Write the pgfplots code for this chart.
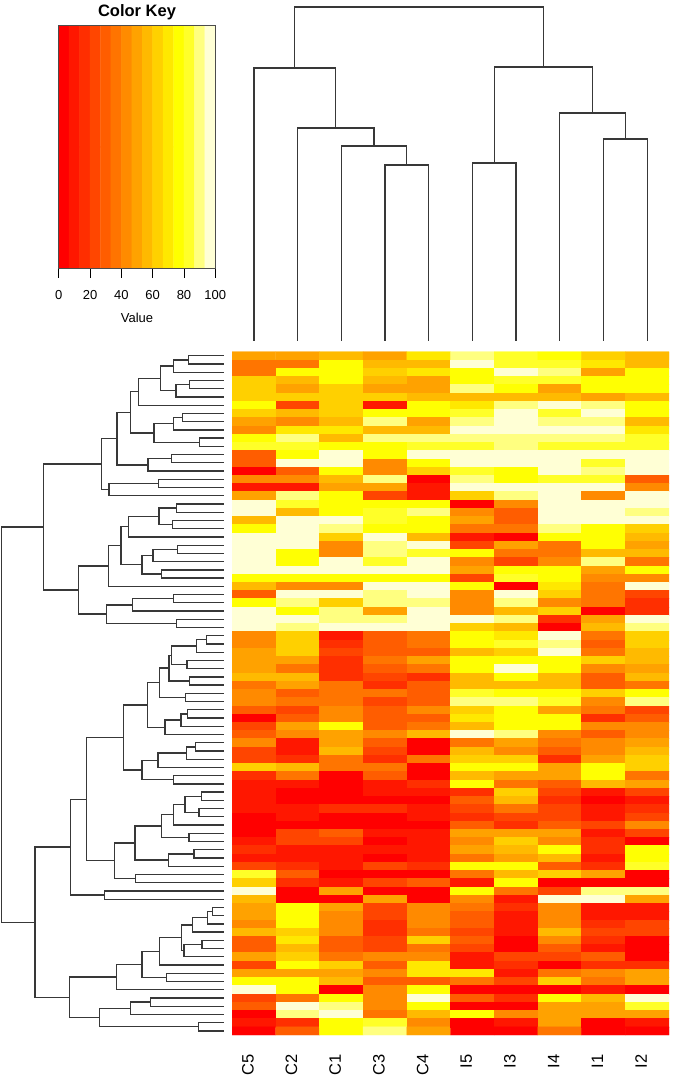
\documentclass[border=0pt]{standalone}
\usepackage{pgfplots}
\pgfplotsset{compat=1.18}
\usepackage{fontspec}
\setmainfont{Liberation Sans}
\pgfplotsset{
  colormap={heat}{rgb255=(255,0,0) rgb255=(255,23,0) rgb255=(255,46,0) rgb255=(255,70,0) rgb255=(255,93,0)
    rgb255=(255,116,0) rgb255=(255,139,0) rgb255=(255,162,0) rgb255=(255,185,0) rgb255=(255,209,0)
    rgb255=(255,232,0) rgb255=(255,255,0) rgb255=(255,255,42) rgb255=(255,255,128) rgb255=(255,255,213)},
  dendro/.style={draw=black!78, line width=1.3pt, line cap=rect, mark=none, unbounded coords=jump},
}
\begin{document}
\begin{tikzpicture}
\path[use as bounding box] (0,0) rectangle (675pt,1078pt);

% Colour key
\begin{axis}[
  at={(58.7pt,809.3pt)}, anchor=south west, scale only axis,
  width=156.6pt, height=243.4pt,
  xmin=0, xmax=100, ymin=0, ymax=1,
  colormap name=heat, point meta min=3.33, point meta max=96.67,
  xtick={0,20,...,100}, ytick=\empty, tick pos=bottom, tick align=outside,
  major tick length=9pt, axis line style={draw=black!70, line width=0.6pt},
  tick style={draw=black, line width=0.7pt},
  tick label style={font=\fontsize{13}{15}\selectfont},
  /pgf/number format/assume math mode=true,
  xticklabel style={yshift=-9pt},
  xlabel={Value}, xlabel style={font=\fontsize{13}{15}\selectfont, yshift=-7pt},
  title={\bfseries Color Key}, title style={font=\fontsize{16.5}{18}\selectfont, yshift=-4pt},
  axis on top,
]
\addplot[matrix plot*, mesh/cols=15, point meta=explicit] coordinates {
(3.33,0) [3.33] (10,0) [10] (16.67,0) [16.67] (23.33,0) [23.33] (30,0) [30] (36.67,0) [36.67] (43.33,0) [43.33] (50,0) [50] (56.67,0) [56.67] (63.33,0) [63.33] (70,0) [70] (76.67,0) [76.67] (83.33,0) [83.33] (90,0) [90] (96.67,0) [96.67]
(3.33,1) [3.33] (10,1) [10] (16.67,1) [16.67] (23.33,1) [23.33] (30,1) [30] (36.67,1) [36.67] (43.33,1) [43.33] (50,1) [50] (56.67,1) [56.67] (63.33,1) [63.33] (70,1) [70] (76.67,1) [76.67] (83.33,1) [83.33] (90,1) [90] (96.67,1) [96.67]
};
\end{axis}

% Top dendrogram
\begin{axis}[
  at={(232pt,726.3pt)}, anchor=south west, scale only axis, axis lines=none,
  width=437pt, height=351.7pt, xmin=-0.5, xmax=9.5, ymin=0, ymax=351.7, y dir=reverse,
]
\addplot[dendro] coordinates {
(3,340)(3,165)(4,165)(4,340)(nan,nan)
(2,340)(2,146)(3.5,146)(3.5,165)(nan,nan)
(1,340)(1,128)(2.75,128)(2.75,146)(nan,nan)
(0,340)(0,68)(1.875,68)(1.875,128)(nan,nan)
(5,340)(5,163)(6,163)(6,340)(nan,nan)
(8,340)(8,139)(9,139)(9,340)(nan,nan)
(7,340)(7,113)(8.5,113)(8.5,139)(nan,nan)
(5.5,163)(5.5,67)(7.75,67)(7.75,113)(nan,nan)
(0.9375,68)(0.9375,7)(6.625,7)(6.625,67)
};
\end{axis}

% Left dendrogram
\begin{axis}[
  at={(0pt,43pt)}, anchor=south west, scale only axis, axis lines=none,
  width=232pt, height=683.3pt, xmin=0, xmax=232, ymin=-0.5, ymax=82.5, y dir=reverse,
]
\addplot[dendro] coordinates {
(223,0)(188.7,0)(188.7,1)(223,1)(nan,nan)
(188.7,0.5)(173.3,0.5)(173.3,2)(223,2)(nan,nan)
(223,3)(189.7,3)(189.7,4)(223,4)(nan,nan)
(189.7,3.5)(176,3.5)(176,5)(223,5)(nan,nan)
(173.3,1.25)(160.3,1.25)(160.3,4.25)(176,4.25)(nan,nan)
(160.3,2.75)(138.7,2.75)(138.7,6)(223,6)(nan,nan)
(223,7)(182.3,7)(182.3,8)(223,8)(nan,nan)
(182.3,7.5)(173.7,7.5)(173.7,9)(223,9)(nan,nan)
(223,10)(199.3,10)(199.3,11)(223,11)(nan,nan)
(173.7,8.25)(154,8.25)(154,10.5)(199.3,10.5)(nan,nan)
(138.7,4.375)(130.7,4.375)(130.7,9.375)(154,9.375)(nan,nan)
(223,12)(171.7,12)(171.7,13)(223,13)(nan,nan)
(171.7,12.5)(148,12.5)(148,14)(223,14)(nan,nan)
(130.7,6.875)(117,6.875)(117,13.25)(148,13.25)(nan,nan)
(223,15)(158.3,15)(158.3,16)(223,16)(nan,nan)
(158.3,15.5)(109,15.5)(109,17)(223,17)(nan,nan)
(117,10.0625)(101.7,10.0625)(101.7,16.25)(109,16.25)(nan,nan)
(223,18)(176.7,18)(176.7,19)(223,19)(nan,nan)
(223,20)(172.7,20)(172.7,21)(223,21)(nan,nan)
(176.7,18.5)(159,18.5)(159,20.5)(172.7,20.5)(nan,nan)
(159,19.5)(128.7,19.5)(128.7,22)(223,22)(nan,nan)
(223,23)(177.7,23)(177.7,24)(223,24)(nan,nan)
(177.7,23.5)(153,23.5)(153,25)(223,25)(nan,nan)
(223,26)(161.7,26)(161.7,27)(223,27)(nan,nan)
(153,24.25)(142,24.25)(142,26.5)(161.7,26.5)(nan,nan)
(128.7,20.75)(121,20.75)(121,25.375)(142,25.375)(nan,nan)
(121,23.0625)(108.7,23.0625)(108.7,28)(223,28)(nan,nan)
(223,29)(173.7,29)(173.7,30)(223,30)(nan,nan)
(173.7,29.5)(132.3,29.5)(132.3,31)(223,31)(nan,nan)
(223,32)(176.7,32)(176.7,33)(223,33)(nan,nan)
(132.3,30.25)(106.7,30.25)(106.7,32.5)(176.7,32.5)(nan,nan)
(108.7,25.531)(78.7,25.531)(78.7,31.375)(106.7,31.375)(nan,nan)
(101.7,13.156)(43.7,13.156)(43.7,28.453)(78.7,28.453)(nan,nan)
(223,34)(206.7,34)(206.7,35)(223,35)(nan,nan)
(206.7,34.5)(196.7,34.5)(196.7,36)(223,36)(nan,nan)
(223,37)(187,37)(187,38)(223,38)(nan,nan)
(196.7,35.25)(171.7,35.25)(171.7,37.5)(187,37.5)(nan,nan)
(223,39)(189.7,39)(189.7,40)(223,40)(nan,nan)
(171.7,36.375)(169,36.375)(169,39.5)(189.7,39.5)(nan,nan)
(223,41)(185.7,41)(185.7,42)(223,42)(nan,nan)
(169,37.9375)(159.3,37.9375)(159.3,41.5)(185.7,41.5)(nan,nan)
(223,43)(187.7,43)(187.7,44)(223,44)(nan,nan)
(187.7,43.5)(181,43.5)(181,45)(223,45)(nan,nan)
(181,44.25)(165,44.25)(165,46)(223,46)(nan,nan)
(159.3,39.719)(147.7,39.719)(147.7,45.125)(165,45.125)(nan,nan)
(223,47)(195.7,47)(195.7,48)(223,48)(nan,nan)
(195.7,47.5)(186.3,47.5)(186.3,49)(223,49)(nan,nan)
(186.3,48.25)(158,48.25)(158,50)(223,50)(nan,nan)
(223,51)(173.3,51)(173.3,52)(223,52)(nan,nan)
(158,49.125)(142,49.125)(142,51.5)(173.3,51.5)(nan,nan)
(147.7,42.422)(123.3,42.422)(123.3,50.3125)(142,50.3125)(nan,nan)
(223,53)(201.3,53)(201.3,54)(223,54)(nan,nan)
(223,55)(199,55)(199,56)(223,56)(nan,nan)
(201.3,53.5)(185,53.5)(185,55.5)(199,55.5)(nan,nan)
(185,54.5)(173.7,54.5)(173.7,57)(223,57)(nan,nan)
(223,58)(189,58)(189,59)(223,59)(nan,nan)
(173.7,55.75)(161.3,55.75)(161.3,58.5)(189,58.5)(nan,nan)
(223,60)(194,60)(194,61)(223,61)(nan,nan)
(194,60.5)(168.3,60.5)(168.3,62)(223,62)(nan,nan)
(161.3,57.125)(135,57.125)(135,61.25)(168.3,61.25)(nan,nan)
(223,63)(135.7,63)(135.7,64)(223,64)(nan,nan)
(135,59.1875)(114.7,59.1875)(114.7,63.5)(135.7,63.5)(nan,nan)
(123.3,46.367)(86.7,46.367)(86.7,61.344)(114.7,61.344)(nan,nan)
(223,65)(104.7,65)(104.7,66)(223,66)(nan,nan)
(86.7,53.855)(70.3,53.855)(70.3,65.5)(104.7,65.5)(nan,nan)
(223,67)(212.3,67)(212.3,68)(223,68)(nan,nan)
(212.3,67.5)(207.7,67.5)(207.7,69)(223,69)(nan,nan)
(207.7,68.25)(192.7,68.25)(192.7,70)(223,70)(nan,nan)
(223,71)(202,71)(202,72)(223,72)(nan,nan)
(202,71.5)(184,71.5)(184,73)(223,73)(nan,nan)
(192.7,69.125)(181.7,69.125)(181.7,72.25)(184,72.25)(nan,nan)
(181.7,70.6875)(159.3,70.6875)(159.3,74)(223,74)(nan,nan)
(223,75)(166.7,75)(166.7,76)(223,76)(nan,nan)
(159.3,72.344)(142,72.344)(142,75.5)(166.7,75.5)(nan,nan)
(142,73.922)(116.3,73.922)(116.3,77)(223,77)(nan,nan)
(223,78)(150.3,78)(150.3,79)(223,79)(nan,nan)
(150.3,78.5)(130.7,78.5)(130.7,80)(223,80)(nan,nan)
(223,81)(198.3,81)(198.3,82)(223,82)(nan,nan)
(130.7,79.25)(99.3,79.25)(99.3,81.5)(198.3,81.5)(nan,nan)
(116.3,75.461)(69.7,75.461)(69.7,80.375)(99.3,80.375)(nan,nan)
(70.3,59.678)(35,59.678)(35,77.918)(69.7,77.918)(nan,nan)
(43.7,20.805)(1.7,20.805)(1.7,68.798)(35,68.798)
};
\end{axis}

% Heat map
\begin{axis}[
  at={(232pt,43pt)}, anchor=south west, scale only axis,
  width=437pt, height=683.3pt,
  xmin=-0.5, xmax=9.5, ymin=-0.5, ymax=82.5, y dir=reverse,
  colormap name=heat, point meta min=3.33, point meta max=96.67,
  axis line style={draw=none}, ytick=\empty,
  xtick={0,...,9}, xticklabels={C5,C2,C1,C3,C4,I5,I3,I4,I1,I2},
  major tick length=0pt, tick pos=bottom,
  xticklabel style={font=\fontsize{16.5}{20}\selectfont, rotate=90, anchor=east, xshift=-16pt, yshift=6pt},
]
\addplot[matrix plot*, mesh/cols=10, point meta=explicit]
 table[row sep=\\, header=false, x expr={int(mod(\coordindex+0.1,10))}, y expr={int((\coordindex+0.1)/10)}, meta index=0] {
50\\50\\57\\50\\70\\90\\83\\77\\63\\57\\
37\\37\\77\\57\\57\\97\\83\\83\\70\\57\\
37\\77\\77\\63\\70\\77\\97\\90\\50\\77\\
63\\57\\77\\57\\50\\77\\83\\83\\77\\77\\
63\\50\\63\\50\\50\\90\\77\\50\\77\\77\\
63\\63\\63\\63\\57\\57\\57\\57\\50\\57\\
77\\23\\63\\10\\77\\70\\90\\97\\90\\77\\
63\\57\\63\\77\\77\\83\\97\\83\\97\\77\\
50\\43\\57\\90\\50\\90\\97\\90\\90\\57\\
43\\70\\70\\57\\57\\97\\97\\97\\97\\70\\
77\\90\\57\\90\\90\\90\\90\\90\\90\\83\\
83\\83\\77\\77\\83\\83\\90\\83\\83\\83\\
30\\77\\97\\77\\97\\97\\97\\97\\97\\97\\
30\\97\\97\\43\\77\\97\\97\\97\\83\\97\\
3\\30\\77\\43\\63\\83\\77\\97\\90\\97\\
43\\43\\57\\90\\3\\90\\77\\83\\83\\30\\
10\\10\\50\\50\\10\\97\\97\\97\\97\\43\\
50\\90\\77\\23\\10\\63\\90\\97\\43\\97\\
97\\83\\77\\77\\77\\3\\43\\97\\97\\97\\
97\\57\\77\\83\\90\\43\\30\\97\\97\\90\\
57\\97\\97\\83\\77\\50\\30\\97\\97\\97\\
77\\97\\90\\77\\77\\37\\37\\90\\77\\63\\
97\\97\\63\\97\\57\\10\\3\\77\\77\\57\\
97\\97\\43\\90\\97\\23\\50\\37\\77\\50\\
97\\77\\43\\90\\83\\77\\37\\37\\57\\57\\
97\\77\\97\\83\\97\\43\\23\\43\\90\\37\\
97\\97\\97\\97\\97\\50\\77\\77\\50\\77\\
77\\77\\77\\77\\77\\23\\83\\77\\43\\43\\
57\\43\\43\\97\\97\\77\\3\\70\\37\\97\\
30\\97\\97\\90\\97\\43\\97\\63\\37\\23\\
77\\90\\63\\90\\90\\43\\90\\43\\37\\17\\
97\\77\\90\\50\\97\\43\\57\\63\\3\\17\\
97\\97\\90\\90\\97\\97\\90\\17\\50\\97\\
97\\90\\97\\97\\97\\63\\57\\3\\57\\90\\
43\\63\\10\\30\\37\\77\\70\\97\\37\\63\\
43\\63\\17\\30\\37\\77\\83\\90\\30\\63\\
50\\63\\23\\30\\30\\57\\63\\97\\37\\57\\
50\\50\\17\\37\\50\\77\\77\\77\\63\\57\\
50\\37\\17\\30\\37\\77\\97\\77\\43\\50\\
57\\57\\17\\23\\17\\57\\77\\57\\30\\57\\
37\\50\\37\\17\\30\\57\\57\\57\\30\\37\\
43\\30\\37\\37\\30\\83\\77\\77\\63\\77\\
43\\37\\37\\23\\30\\90\\90\\83\\43\\90\\
30\\23\\43\\30\\43\\63\\77\\50\\37\\23\\
3\\30\\43\\30\\30\\70\\77\\77\\17\\30\\
23\\50\\77\\30\\37\\57\\77\\77\\43\\43\\
30\\43\\50\\43\\57\\97\\90\\43\\30\\43\\
43\\10\\50\\30\\3\\37\\50\\37\\43\\50\\
23\\10\\57\\23\\3\\57\\43\\30\\43\\57\\
23\\17\\37\\17\\37\\63\\63\\17\\50\\63\\
63\\57\\37\\37\\3\\77\\77\\50\\77\\63\\
17\\37\\3\\30\\3\\57\\50\\50\\77\\37\\
10\\10\\3\\10\\17\\77\\37\\30\\57\\50\\
10\\3\\3\\10\\10\\17\\63\\23\\10\\23\\
10\\3\\3\\3\\3\\30\\57\\17\\3\\10\\
10\\10\\17\\17\\10\\23\\37\\23\\10\\17\\
3\\10\\3\\3\\10\\17\\23\\23\\10\\23\\
3\\3\\3\\3\\3\\30\\17\\30\\23\\43\\
3\\23\\30\\10\\10\\50\\50\\50\\10\\23\\
10\\23\\23\\3\\10\\43\\63\\43\\17\\3\\
17\\10\\10\\10\\10\\50\\57\\77\\17\\77\\
10\\10\\10\\3\\10\\37\\50\\57\\10\\77\\
23\\17\\10\\23\\17\\77\\77\\30\\17\\83\\
83\\30\\3\\3\\3\\37\\57\\63\\50\\3\\
63\\17\\10\\23\\30\\10\\77\\3\\3\\3\\
97\\3\\50\\3\\3\\77\\37\\23\\90\\90\\
57\\3\\3\\50\\3\\43\\10\\97\\97\\50\\
50\\77\\50\\23\\43\\37\\17\\43\\10\\10\\
50\\77\\43\\23\\43\\30\\10\\43\\10\\10\\
43\\77\\43\\17\\43\\30\\10\\43\\17\\23\\
57\\63\\43\\17\\37\\23\\10\\57\\23\\23\\
30\\70\\30\\23\\63\\30\\3\\43\\17\\3\\
30\\57\\30\\23\\37\\23\\3\\30\\10\\3\\
50\\63\\37\\43\\43\\10\\23\\23\\30\\3\\
23\\77\\63\\30\\70\\10\\17\\3\\17\\17\\
50\\50\\50\\43\\70\\70\\10\\37\\43\\50\\
77\\77\\57\\30\\30\\37\\23\\63\\37\\50\\
97\\77\\3\\43\\77\\3\\3\\3\\10\\3\\
23\\37\\77\\43\\97\\30\\17\\77\\57\\97\\
30\\97\\90\\43\\77\\3\\3\\50\\50\\83\\
3\\90\\97\\37\\57\\77\\43\\50\\50\\50\\
10\\17\\77\\83\\43\\3\\10\\50\\3\\10\\
3\\30\\77\\90\\50\\3\\3\\37\\3\\3\\
};
\end{axis}
\end{tikzpicture}
\end{document}
